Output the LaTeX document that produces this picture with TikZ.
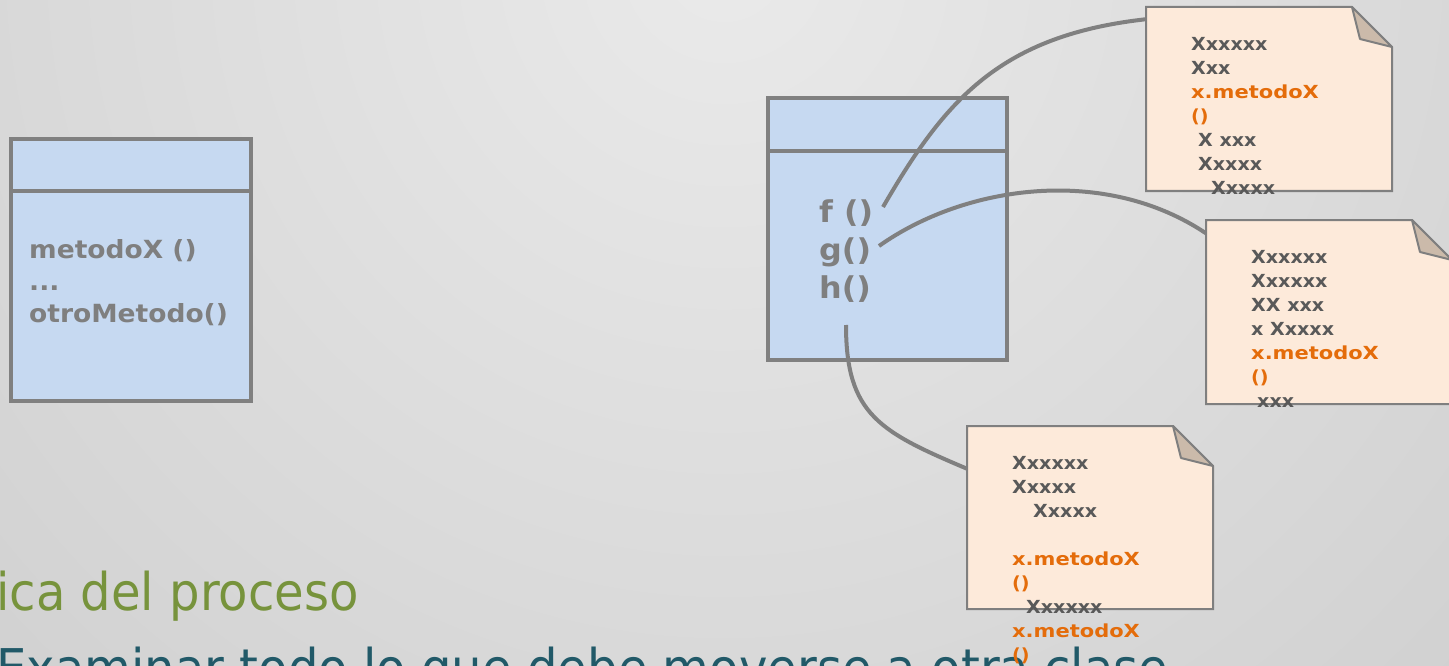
\documentclass[tikz,border=0pt]{standalone}
\usepackage{fontspec}
\setmainfont{DejaVu Sans}
\newfontfamily\slidefont[FakeStretch=0.925]{DejaVu Sans}
\newfontfamily\diagfont[FakeStretch=1.06]{DejaVu Sans}

\definecolor{boxfill}{HTML}{C6D9F1}
\definecolor{boxline}{HTML}{808080}
\definecolor{notefill}{HTML}{FDEADA}
\definecolor{notefold}{HTML}{CBBAAA}
\definecolor{noteline}{HTML}{7F7F7F}
\definecolor{notetext}{HTML}{595959}
\definecolor{callcol}{HTML}{E46C0A}
\definecolor{methtext}{HTML}{7F7F7F}
\definecolor{titlegreen}{HTML}{77933C}
\definecolor{bodyteal}{HTML}{215968}
\definecolor{bgin}{HTML}{EAEAEA}
\definecolor{bgout}{HTML}{CECECE}

% orange call of metodoX, set a little wider than the rest
\newcommand{\callx}{\textcolor{callcol}{\scalebox{1.1}[1]{x.metodoX}}}
\newcommand{\callp}{\textcolor{callcol}{()}}

\tikzset{
  classbox/.style={draw=boxline, fill=boxfill, line width=3.5pt, inner sep=0pt, outer sep=0pt, anchor=north west},
  divider/.style={draw=boxline, line width=3.5pt},
  methods/.style={anchor=north west, inner sep=0pt, align=left, text=methtext},
  link/.style={draw=boxline, line width=4pt},
  notesheet/.style={draw=noteline, fill=notefill, line width=2pt, line join=miter},
  notefoldpart/.style={draw=noteline, fill=notefold, line width=2pt, line join=round},
  notebody/.style={anchor=north west, inner sep=0pt, align=left, text=notetext,
    font=\diagfont\fontsize{18}{24}\selectfont\bfseries},
  slidetext/.style={anchor=base west, inner sep=0pt, font=\slidefont\fontsize{52}{60}\selectfont}
}

\begin{document}
\begin{tikzpicture}[x=1pt,y=-1pt]
\useasboundingbox (0,0) rectangle (1449,666);
\clip (0,0) rectangle (1449,666);

% slide background
\shade[inner color=bgin, outer color=bgout] (724,-40) circle (1150pt);

% slide text
\node[slidetext, text=titlegreen] (title) at (-4,610) {ica del proceso};
\node[slidetext, text=bodyteal] (bullet) at (-4,686) {Examinar todo lo que debe moverse a otra clase};

% class on the left
\node[classbox, minimum width=240pt, minimum height=262pt] (leftclass) at (11,139) {};
\draw[divider] ([yshift=-52pt]leftclass.north west) -- ([yshift=-52pt]leftclass.north east);
\node[methods, font=\diagfont\fontsize{25}{32}\selectfont\bfseries] (leftops) at (29,235.6)
  {\strut metodoX ()\\...\\otroMetodo()};

% class on the right
\node[classbox, minimum width=239pt, minimum height=262pt] (rightclass) at (768,98) {};
\draw[divider] ([yshift=-53pt]rightclass.north west) -- ([yshift=-53pt]rightclass.north east);
\node[methods, font=\diagfont\fontsize{30}{38}\selectfont\bfseries] (rightops) at (819,195.4)
  {\strut f ()\\g()\\h()};

% connector end points
\coordinate (fcall) at (883,207);
\coordinate (gcall) at (879,246);
\coordinate (hcall) at (846,325);
\coordinate (fnote) at (1148,19);
\coordinate (gnote) at (1207,234);
\coordinate (hnote) at (970,470);

% connectors from the methods to their notes
\draw[link] (fcall) .. controls (945,100) and (1000,35) .. (fnote);
\draw[link] (gcall) .. controls (965,185) and (1105,165) .. (gnote);
\draw[link] (hcall) .. controls (846,415) and (880,432) .. (hnote);

% note for f()
\path[notesheet] (1146,7) -- (1352,7) -- (1392,47) -- (1392,191) -- (1146,191) -- cycle;
\path[notefoldpart] (1352,7) -- (1360,39) -- (1392,47) -- cycle;
% note for g()
\path[notesheet] (1206,220) -- (1412,220) -- (1452,260) -- (1452,404) -- (1206,404) -- cycle;
\path[notefoldpart] (1412,220) -- (1420,252) -- (1452,260) -- cycle;
% note for h()
\path[notesheet] (967,426) -- (1173,426) -- (1213,466) -- (1213,609) -- (967,609) -- cycle;
\path[notefoldpart] (1173,426) -- (1181,458) -- (1213,466) -- cycle;

% note texts
\node[notebody] (ftext) at (1191,33.2)
  {\strut Xxxxxx\\Xxx\\\callx\\\callp\\
   \hspace*{7pt}X xxx\\\hspace*{7pt}Xxxxx\\\hspace*{20pt}Xxxxx};
\node[notebody] (gtext) at (1251,246.2)
  {\strut Xxxxxx\\Xxxxxx\\XX xxx\\x Xxxxx\\\callx\\\callp\\
   \hspace*{6pt}xxx};
\node[notebody] (htext) at (1012,452.2)
  {\strut Xxxxxx\\Xxxxx\\\hspace*{21pt}Xxxxx\\[24pt]\callx\\\callp\\
   \hspace*{14pt}Xxxxxx\\\callx\\\callp};
\end{tikzpicture}
\end{document}
